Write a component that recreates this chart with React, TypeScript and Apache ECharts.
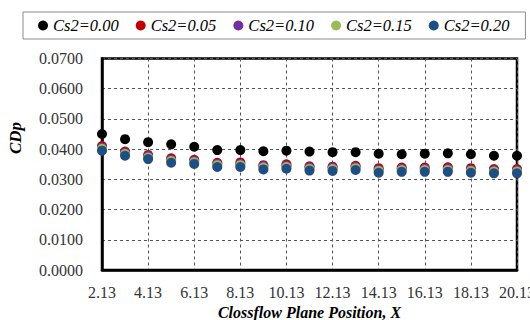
import React, { useEffect, useRef } from "react";
import * as echarts from "echarts";

// Crossflow plane positions (x-axis categories)
const positions = [
  "2.13", "3.13", "4.13", "5.13", "6.13", "7.13", "8.13", "9.13", "10.13", "11.13",
  "12.13", "13.13", "14.13", "15.13", "16.13", "17.13", "18.13", "19.13", "20.13",
];

const seriesNames = ["Cs2=0.00", "Cs2=0.05", "Cs2=0.10", "Cs2=0.15", "Cs2=0.20"];
const seriesColors = ["#000000", "#c00000", "#7030a0", "#9bbb59", "#1f4e82"];

const cs000 = [0.0450, 0.0433, 0.0423, 0.0416, 0.0408, 0.0397, 0.0397, 0.0393, 0.0395, 0.0392,
  0.0390, 0.0390, 0.0385, 0.0383, 0.0385, 0.0386, 0.0383, 0.0378, 0.0378];
const cs005 = [0.0410, 0.0392, 0.0381, 0.0370, 0.0365, 0.0355, 0.0356, 0.0347, 0.0350, 0.0343,
  0.0342, 0.0345, 0.0337, 0.0339, 0.0339, 0.0340, 0.0337, 0.0334, 0.0334];
const cs010 = [0.0405, 0.0388, 0.0377, 0.0365, 0.0361, 0.0351, 0.0351, 0.0344, 0.0345, 0.0340,
  0.0339, 0.0341, 0.0332, 0.0335, 0.0335, 0.0335, 0.0332, 0.0330, 0.0330];
const cs015 = [0.0401, 0.0384, 0.0372, 0.0361, 0.0357, 0.0347, 0.0347, 0.0339, 0.0341, 0.0335,
  0.0334, 0.0337, 0.0328, 0.0331, 0.0331, 0.0331, 0.0328, 0.0326, 0.0326];
const cs020 = [0.0395, 0.0378, 0.0367, 0.0355, 0.0351, 0.0341, 0.0341, 0.0333, 0.0335, 0.0329,
  0.0328, 0.0331, 0.0322, 0.0325, 0.0325, 0.0325, 0.0322, 0.0320, 0.0320];

const seriesData = [cs000, cs005, cs010, cs015, cs020];

const SERIF = "'Liberation Serif', 'Times New Roman', serif";

export default function App() {
  const ref = useRef<HTMLDivElement>(null);

  useEffect(() => {
    if (!ref.current) return;
    const chart = echarts.init(ref.current, undefined, { renderer: "svg" });
    chart.setOption({
      animation: false,
      backgroundColor: "#ffffff",
      legend: {
        left: 23,
        top: 12,
        padding: [5, 16, 5, 15],
        itemGap: 17,
        itemWidth: 10,
        itemHeight: 10,
        icon: "circle",
        borderColor: "#8c8c8c",
        borderWidth: 1,
        textStyle: {
          fontFamily: SERIF,
          fontStyle: "italic",
          fontSize: 16.5,
          color: "#000",
        },
        data: seriesNames,
      },
      grid: {
        left: 102,
        right: 13,
        top: 58.5,
        bottom: 50,
        outerBoundsMode: "none",
        show: true,
        borderColor: "#000",
        borderWidth: 2.5,
      },
      xAxis: {
        type: "category",
        data: positions,
        boundaryGap: false,
        name: "Clossflow Plane Position, X",
        nameLocation: "middle",
        nameGap: 32,
        nameTextStyle: {
          fontFamily: SERIF,
          fontStyle: "italic",
          fontWeight: "bold",
          fontSize: 16,
          color: "#000",
        },
        axisLine: { show: true, lineStyle: { color: "#000", width: 2.5 } },
        axisTick: { show: false },
        axisLabel: {
          interval: 1,
          margin: 14,
          fontFamily: SERIF,
          fontSize: 16,
          color: "#333",
        },
        splitLine: {
          show: true,
          interval: 1,
          lineStyle: { color: "#555", type: [3, 3], width: 1 },
        },
      },
      yAxis: {
        type: "value",
        min: 0,
        max: 0.07,
        interval: 0.01,
        axisLine: { show: true, lineStyle: { color: "#000", width: 2.5 } },
        axisTick: { show: false },
        axisLabel: {
          margin: 19,
          fontFamily: SERIF,
          fontSize: 16,
          color: "#333",
          formatter: (v: number) => v.toFixed(4),
        },
        splitLine: {
          show: true,
          lineStyle: { color: "#555", type: [3, 3], width: 1 },
        },
      },
      graphic: [
        {
          type: "text",
          x: 15,
          y: 138,
          rotation: Math.PI / 2,
          style: {
            text: "CDp",
            fontFamily: SERIF,
            fontStyle: "italic",
            fontWeight: "bold",
            fontSize: 17,
            fill: "#000",
            align: "center",
            verticalAlign: "middle",
          },
        },
      ],
      series: seriesNames.map((name, i) => ({
        name,
        type: "scatter",
        data: seriesData[i],
        symbol: "circle",
        symbolSize: 10,
        itemStyle: { color: seriesColors[i], opacity: 1 },
      })),
    });
    return () => chart.dispose();
  }, []);

  return (
    <div
      ref={ref}
      style={{ position: "fixed", left: 0, top: 0, width: 530, height: 320 }}
    />
  );
}
